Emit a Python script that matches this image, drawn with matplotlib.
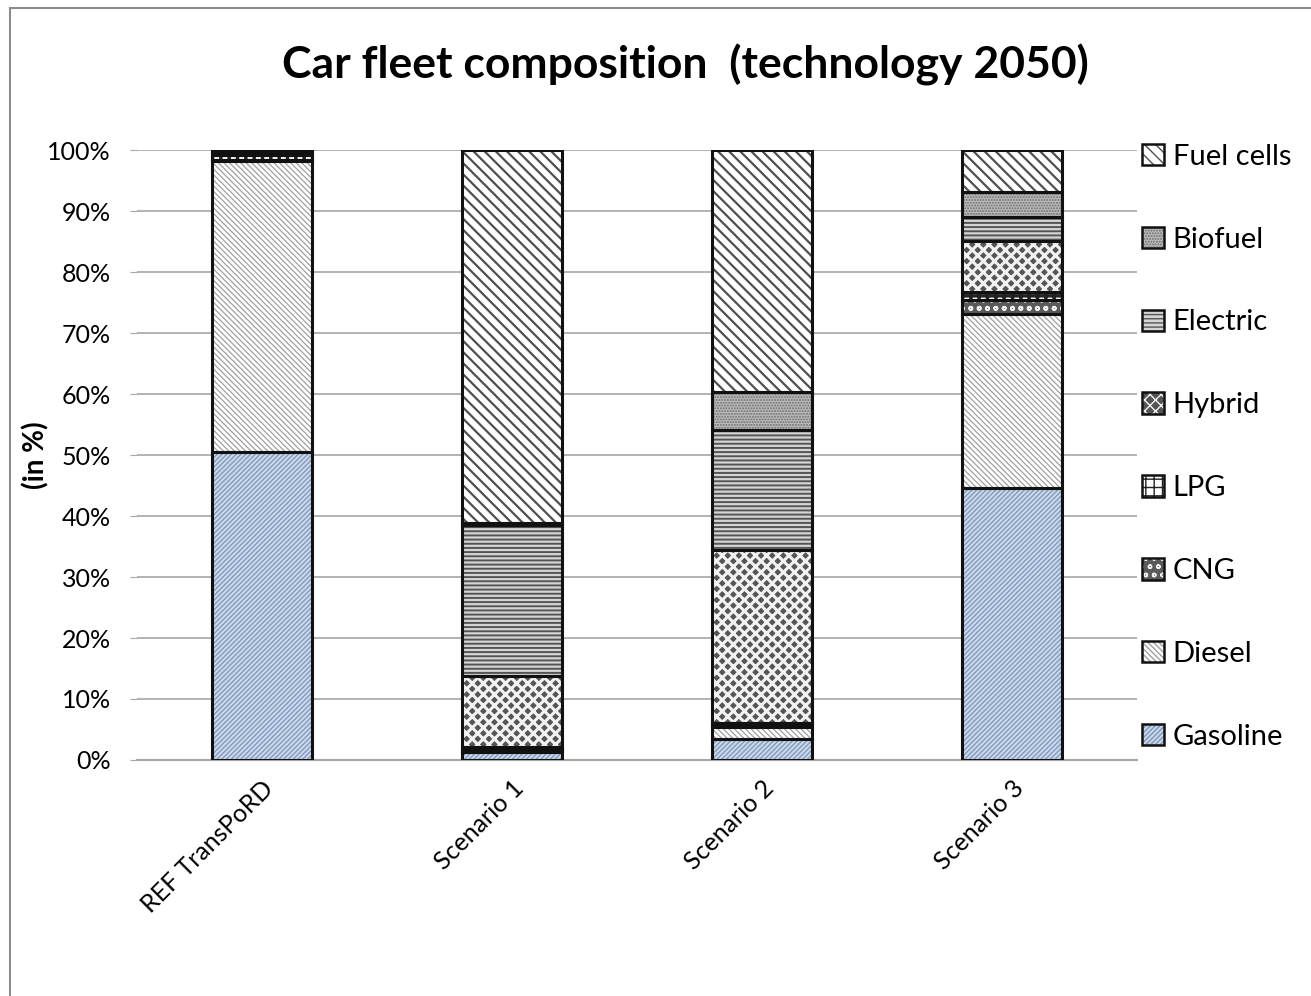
import numpy as np
import matplotlib.pyplot as plt
from matplotlib.patches import Patch, Rectangle

plt.rcParams['font.family'] = ['Lato', 'DejaVu Sans']

# data (share of car fleet in %)
scenarios = ["REF TransPoRD", "Scenario 1", "Scenario 2", "Scenario 3"]
gasoline = [50.5, 1.3, 3.4, 44.6]
diesel = [47.7, 0.2, 2.0, 28.6]
cng = [0.3, 0.1, 0.3, 2.2]
lpg = [0.7, 0.6, 0.4, 1.4]
hybrid = [0.0, 11.6, 28.3, 8.3]
electric = [0.6, 24.7, 19.8, 4.0]
biofuel = [0.0, 0.4, 6.2, 4.1]
fuel_cells = [0.2, 61.1, 39.6, 6.8]

series = [("Gasoline", gasoline), ("Diesel", diesel), ("CNG", cng), ("LPG", lpg),
          ("Hybrid", hybrid), ("Electric", electric), ("Biofuel", biofuel),
          ("Fuel cells", fuel_cells)]

# face colour, hatch colour, hatch, hatch linewidth
styles = {
    "Gasoline": ("#c8d8ee", "#8196b4", "///////", 0.9),
    "Diesel": ("white", "#a0a0a0", "\\\\\\\\\\\\", 0.9),
    "CNG": ("#5a5a5a", "#f0f0f0", "oo", 1.2),
    "LPG": ("white", "#222222", "++", 2.5),
    "Hybrid": ("#555555", "#f2f2f2", "xxx", 2.2),
    "Electric": ("#d4d4d4", "#555555", "----", 1.4),
    "Biofuel": ("#bcbcbc", "#6e6e6e", "......", 1.0),
    "Fuel cells": ("white", "#505050", "\\\\\\", 1.6),
}

fig = plt.figure(figsize=(13.11, 9.96), dpi=100)
ax = fig.add_axes([0.1045, 0.237, 0.7625, 0.612])

x = np.arange(len(scenarios))
width = 0.4
bottom = np.zeros(len(scenarios))
handles = []
for name, vals in series:
    vals = np.array(vals)
    fc, hc, hatch, hlw = styles[name]
    with plt.rc_context({'hatch.linewidth': hlw}):
        bars = ax.bar(x, vals, width, bottom=bottom, color=fc, edgecolor=hc,
                      hatch=hatch, linewidth=0, zorder=2)
        h = Patch(facecolor=fc, edgecolor=hc, hatch=hatch, linewidth=0)
    for p in list(bars) + [h]:
        if hasattr(p, "set_hatch_linewidth"):
            p.set_hatch_linewidth(hlw)
    ax.bar(x, vals, width, bottom=bottom, fill=False, edgecolor="#111111",
           linewidth=2.2, zorder=3)
    bottom += vals
    # legend icon: hatched fill plus a dark outline
    handles.append((h, Patch(fill=False, edgecolor="#111111", linewidth=1.8)))

ax.set_xlim(-0.5, 3.5)
ax.set_ylim(0, 100)
ax.set_yticks(np.arange(0, 101, 10))
ax.set_yticklabels([f"{v}%" for v in range(0, 101, 10)], fontsize=18)
ax.set_xticks(x)
ax.set_xticklabels(scenarios, rotation=45, ha="right", rotation_mode="anchor",
                   fontsize=18)
ax.tick_params(axis="x", length=0, pad=12)
ax.tick_params(axis="y", length=5, color="#a6a6a6", pad=14)
ax.yaxis.grid(True, color="#a6a6a6", linewidth=1.2, zorder=0)
ax.set_axisbelow(True)
for s in ["top", "right", "left"]:
    ax.spines[s].set_visible(False)
ax.spines["bottom"].set_color("#a6a6a6")
ax.spines["bottom"].set_linewidth(1.5)

ax.set_ylabel("(in %)", fontsize=20, fontweight="bold", labelpad=-2)
fig.text(0.523, 0.935, "Car fleet composition  (technology 2050)", fontsize=32,
         fontweight="bold", ha="center", va="center")

labels = [s[0] for s in series][::-1]
leg = ax.legend(handles[::-1], labels, loc="upper left",
                bbox_to_anchor=(0.991, 1.035), frameon=False, fontsize=21,
                handlelength=0.75, handleheight=0.75, handletextpad=0.3,
                labelspacing=1.95, borderaxespad=0.1)

# outer chart border
fig.patches.append(Rectangle((0.008, -0.01), 1.1, 1.002, transform=fig.transFigure,
                             fill=False, edgecolor="#8c8c8c", linewidth=1.5))

fig.savefig("out.png", dpi=100)
